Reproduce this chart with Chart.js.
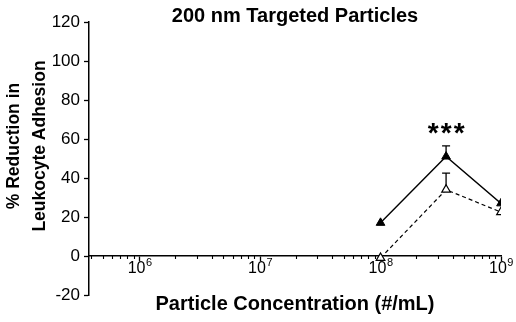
<!DOCTYPE html>
<html>
<head>
<meta charset="utf-8">
<script src="https://cdn.jsdelivr.net/npm/chart.js@4/dist/chart.umd.min.js"></script>
<style>
  html, body { margin: 0; padding: 0; background: #fff; }
  #wrap { position: relative; width: 516px; height: 322px; }
</style>
</head>
<body>
<div id="wrap"><canvas id="adhesionChart"></canvas></div>
<script>
/** Leukocyte adhesion vs. particle concentration (log x, upward SEM bars) */

const FONT = '"Liberation Sans", Arial, Helvetica, sans-serif';

const concentrations = [1e8, 3.5e8, 1e9];
const filledMeans = [17, 51, 27];
const filledErrors = [null, 5.5, null];
const openMeans = [-1, 34, 22.5];
const openErrors = [null, 8.5, null];

const decadeExponents = [6, 7, 8, 9];
const minorMultipliers = [2, 3, 4, 5, 6, 7, 8, 9];
const yTicks = [-20, 0, 20, 40, 60, 80, 100, 120];

const chartTitle = '200 nm Targeted Particles';
const xTitle = 'Particle Concentration (#/mL)';
const yTitle = ['% Reduction in', 'Leukocyte Adhesion'];
const significance = { x: 3.5e8, text: '***' };

const X_MIN = 380000;
const X_MAX = 1e9;

const toPoints = means => concentrations.map((c, i) => ({ x: c, y: means[i] }));

function drawErrorBars(ctx, x, y, means, errors) {
  errors.forEach((e, i) => {
    if (!e) return;
    const px = x.getPixelForValue(concentrations[i]);
    const y0 = y.getPixelForValue(means[i]);
    const y1 = y.getPixelForValue(means[i] + e);
    ctx.beginPath();
    ctx.moveTo(px, y0);
    ctx.lineTo(px, y1);
    ctx.moveTo(px - 4, y1);
    ctx.lineTo(px + 4, y1);
    ctx.stroke();
  });
}

const overlayPlugin = {
  id: 'overlay',
  beforeDatasetsDraw(chart) {
    const { ctx, scales: { x, y } } = chart;
    ctx.save();
    ctx.strokeStyle = '#000';
    ctx.lineWidth = 1.3;
    drawErrorBars(ctx, x, y, filledMeans, filledErrors);
    drawErrorBars(ctx, x, y, openMeans, openErrors);
    ctx.restore();
  },
  afterDraw(chart) {
    const { ctx, chartArea, scales: { x, y } } = chart;
    ctx.save();
    ctx.fillStyle = '#000';

    // heading
    ctx.font = `bold 20px ${FONT}`;
    ctx.textAlign = 'center';
    ctx.textBaseline = 'middle';
    ctx.fillText(chartTitle, (chartArea.left + chartArea.right) / 2, 16);

    // y-axis title, two rotated lines
    ctx.save();
    ctx.translate(0, 146);
    ctx.rotate(-Math.PI / 2);
    ctx.font = `bold 17.5px ${FONT}`;
    yTitle.forEach((line, i) => ctx.fillText(line, 0, 14 + i * 26));
    ctx.restore();

    // decade labels 10^n under the zero line
    const base = y.getPixelForValue(0) + 17;
    ctx.textAlign = 'left';
    ctx.textBaseline = 'alphabetic';
    decadeExponents.forEach(exp => {
      const px = x.getPixelForValue(10 ** exp);
      ctx.font = `16px ${FONT}`;
      const w1 = ctx.measureText('10').width;
      ctx.font = `11px ${FONT}`;
      const w2 = ctx.measureText(String(exp)).width;
      const start = px - (w1 + w2) / 2;
      ctx.font = `16px ${FONT}`;
      ctx.fillText('10', start, base);
      ctx.font = `11px ${FONT}`;
      ctx.fillText(String(exp), start + w1 + 0.5, base - 7);
    });

    // significance marker above the tallest error bar
    const idx = concentrations.indexOf(significance.x);
    const top = Math.max(filledMeans[idx] + (filledErrors[idx] || 0), openMeans[idx] + (openErrors[idx] || 0));
    const sx = x.getPixelForValue(significance.x);
    const sy = y.getPixelForValue(top) - 12;
    ctx.font = `bold 28px ${FONT}`;
    ctx.textAlign = 'center';
    ctx.textBaseline = 'middle';
    const marks = significance.text.split('');
    marks.forEach((m, i) => ctx.fillText(m, sx + (i - (marks.length - 1) / 2) * 13, sy));
    ctx.restore();
  }
};

new Chart(document.getElementById('adhesionChart'), {
  type: 'line',
  data: {
    datasets: [
      {
        data: toPoints(filledMeans),
        borderColor: '#000',
        borderWidth: 1.4,
        pointStyle: 'triangle',
        pointRadius: 5,
        pointBackgroundColor: '#000',
        pointBorderColor: '#000',
        pointBorderWidth: 1
      },
      {
        data: toPoints(openMeans),
        borderColor: '#000',
        borderWidth: 1.2,
        borderDash: [4, 3],
        pointStyle: 'triangle',
        pointRadius: 5,
        pointBackgroundColor: '#fff',
        pointBorderColor: '#000',
        pointBorderWidth: 1.2
      }
    ]
  },
  options: {
    responsive: true,
    maintainAspectRatio: false,
    animation: false,
    layout: { padding: { top: 22, right: 15, bottom: 27, left: 0 } },
    plugins: { legend: { display: false }, tooltip: { enabled: false } },
    scales: {
      x: {
        type: 'logarithmic',
        min: X_MIN,
        max: X_MAX,
        position: { y: 0 },
        afterBuildTicks: s => { s.ticks = decadeExponents.map(e => ({ value: 10 ** e })); },
        grid: { drawOnChartArea: false, tickLength: 5, color: '#000', tickWidth: 1.3 },
        border: { color: '#000', width: 1.5 },
        ticks: { display: false },
        title: {
          display: true,
          text: xTitle,
          color: '#000',
          font: { family: FONT, size: 20, weight: 'bold' },
          padding: { top: 31, bottom: 0 }
        }
      },
      xMinor: {
        type: 'logarithmic',
        axis: 'x',
        min: X_MIN,
        max: X_MAX,
        position: { y: 0 },
        afterBuildTicks: s => {
          const ticks = [];
          for (let e = 5; e < 9; e++) {
            minorMultipliers.forEach(m => {
              const v = m * 10 ** e;
              if (v >= X_MIN && v <= X_MAX) ticks.push({ value: v });
            });
          }
          s.ticks = ticks;
        },
        grid: { drawOnChartArea: false, tickLength: 3, color: '#000', tickWidth: 1.1 },
        border: { display: false },
        ticks: { display: false }
      },
      y: {
        min: -20,
        max: 120,
        afterBuildTicks: s => { s.ticks = yTicks.map(v => ({ value: v })); },
        afterFit: s => { s.width = 89; },
        grid: { drawOnChartArea: false, tickLength: 5, color: '#000', tickWidth: 1.3 },
        border: { color: '#000', width: 1.5 },
        ticks: { color: '#000', padding: 4, font: { family: FONT, size: 17 } }
      }
    }
  },
  plugins: [overlayPlugin]
});
</script>
</body>
</html>
